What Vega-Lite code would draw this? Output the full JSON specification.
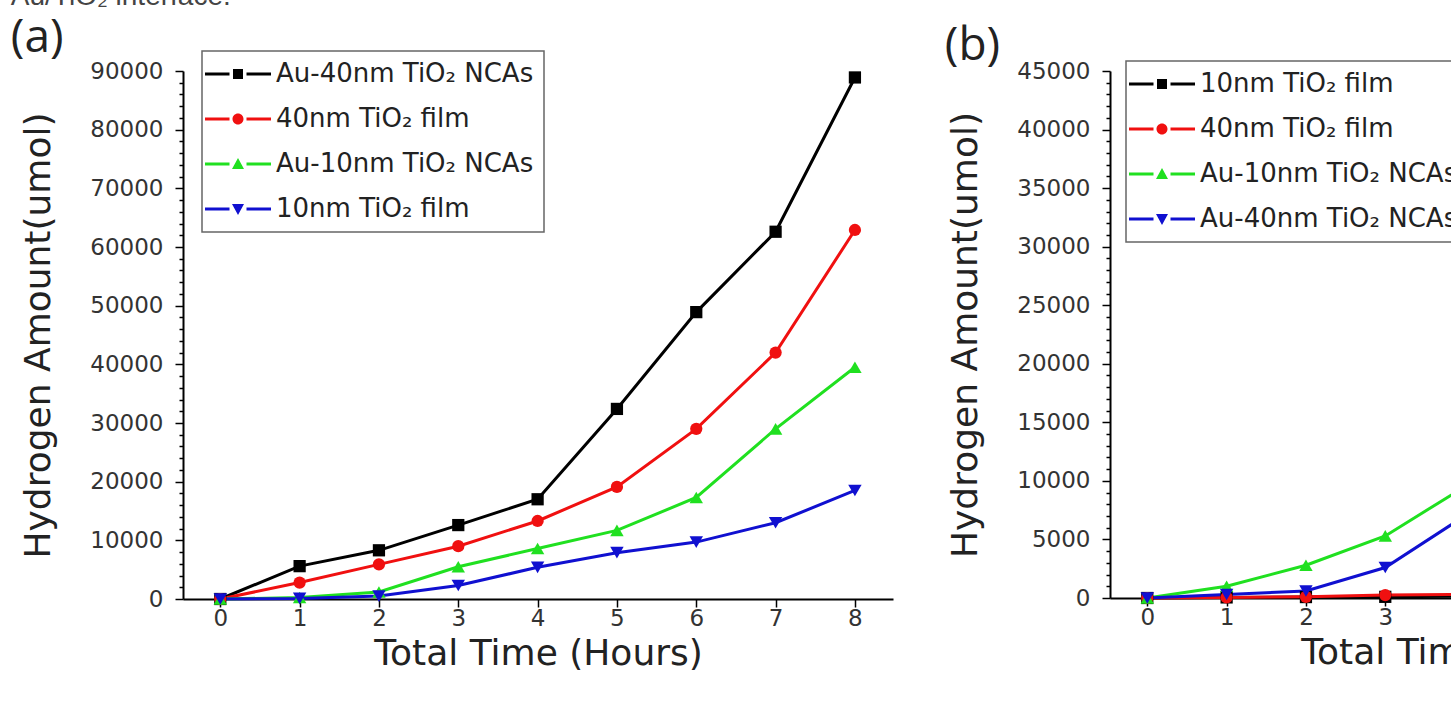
{
  "$schema": "https://vega.github.io/schema/vega-lite/v6.json",
  "background": "white",
  "padding": {"left": 10, "top": -17, "right": 0, "bottom": 0},
  "title": {"text": "Au/TiO₂ interface.", "anchor": "start", "frame": "bounds", "font": "Liberation Sans", "fontSize": 28, "fontWeight": "normal", "color": "#444", "offset": 4},
  "config": {
    "view": {"stroke": null},
    "axis": {"domainColor": "#000", "domainWidth": 2, "tickColor": "#000", "tickWidth": 1.5, "labelFont": "DejaVu Sans", "labelFontSize": 23, "labelColor": "#333", "titleFont": "DejaVu Sans", "titleFontSize": 36, "titleFontWeight": "normal", "titleColor": "#222", "grid": false, "labelOverlap": false, "labelFlush": false},
    "legend": {"orient": "none", "title": null, "strokeColor": "#666", "strokeWidth": 1.5, "padding": 10, "symbolSize": 100, "symbolOffset": 13, "labelOffset": 25, "rowPadding": 19, "labelFont": "DejaVu Sans", "labelFontSize": 26, "labelColor": "#222", "labelLimit": 0, "symbolStrokeWidth": 0}
  },
  "datasets": {
    "a": [
      {"series": "Au-40nm TiO₂ NCAs", "hours": 0, "amount": 0},
      {"series": "Au-40nm TiO₂ NCAs", "hours": 1, "amount": 5600},
      {"series": "Au-40nm TiO₂ NCAs", "hours": 2, "amount": 8300},
      {"series": "Au-40nm TiO₂ NCAs", "hours": 3, "amount": 12600},
      {"series": "Au-40nm TiO₂ NCAs", "hours": 4, "amount": 17000},
      {"series": "Au-40nm TiO₂ NCAs", "hours": 5, "amount": 32400},
      {"series": "Au-40nm TiO₂ NCAs", "hours": 6, "amount": 48900},
      {"series": "Au-40nm TiO₂ NCAs", "hours": 7, "amount": 62600},
      {"series": "Au-40nm TiO₂ NCAs", "hours": 8, "amount": 88900},
      {"series": "40nm TiO₂ film", "hours": 0, "amount": 0},
      {"series": "40nm TiO₂ film", "hours": 1, "amount": 2800},
      {"series": "40nm TiO₂ film", "hours": 2, "amount": 5900},
      {"series": "40nm TiO₂ film", "hours": 3, "amount": 9000},
      {"series": "40nm TiO₂ film", "hours": 4, "amount": 13300},
      {"series": "40nm TiO₂ film", "hours": 5, "amount": 19100},
      {"series": "40nm TiO₂ film", "hours": 6, "amount": 29000},
      {"series": "40nm TiO₂ film", "hours": 7, "amount": 42000},
      {"series": "40nm TiO₂ film", "hours": 8, "amount": 62900},
      {"series": "Au-10nm TiO₂ NCAs", "hours": 0, "amount": 0},
      {"series": "Au-10nm TiO₂ NCAs", "hours": 1, "amount": 250},
      {"series": "Au-10nm TiO₂ NCAs", "hours": 2, "amount": 1200},
      {"series": "Au-10nm TiO₂ NCAs", "hours": 3, "amount": 5500},
      {"series": "Au-10nm TiO₂ NCAs", "hours": 4, "amount": 8600},
      {"series": "Au-10nm TiO₂ NCAs", "hours": 5, "amount": 11700},
      {"series": "Au-10nm TiO₂ NCAs", "hours": 6, "amount": 17300},
      {"series": "Au-10nm TiO₂ NCAs", "hours": 7, "amount": 29000},
      {"series": "Au-10nm TiO₂ NCAs", "hours": 8, "amount": 39500},
      {"series": "10nm TiO₂ film", "hours": 0, "amount": 0},
      {"series": "10nm TiO₂ film", "hours": 1, "amount": 100},
      {"series": "10nm TiO₂ film", "hours": 2, "amount": 500},
      {"series": "10nm TiO₂ film", "hours": 3, "amount": 2300},
      {"series": "10nm TiO₂ film", "hours": 4, "amount": 5400},
      {"series": "10nm TiO₂ film", "hours": 5, "amount": 7900},
      {"series": "10nm TiO₂ film", "hours": 6, "amount": 9700},
      {"series": "10nm TiO₂ film", "hours": 7, "amount": 13000},
      {"series": "10nm TiO₂ film", "hours": 8, "amount": 18500}
    ],
    "b": [
      {"series": "10nm TiO₂ film", "hours": 0, "amount": 0},
      {"series": "10nm TiO₂ film", "hours": 1, "amount": 50},
      {"series": "10nm TiO₂ film", "hours": 2, "amount": 80},
      {"series": "10nm TiO₂ film", "hours": 3, "amount": 100},
      {"series": "10nm TiO₂ film", "hours": 4, "amount": 150},
      {"series": "40nm TiO₂ film", "hours": 0, "amount": 0},
      {"series": "40nm TiO₂ film", "hours": 1, "amount": 50},
      {"series": "40nm TiO₂ film", "hours": 2, "amount": 100},
      {"series": "40nm TiO₂ film", "hours": 3, "amount": 250},
      {"series": "40nm TiO₂ film", "hours": 4, "amount": 300},
      {"series": "Au-10nm TiO₂ NCAs", "hours": 0, "amount": 0},
      {"series": "Au-10nm TiO₂ NCAs", "hours": 1, "amount": 1000},
      {"series": "Au-10nm TiO₂ NCAs", "hours": 2, "amount": 2800},
      {"series": "Au-10nm TiO₂ NCAs", "hours": 3, "amount": 5300},
      {"series": "Au-10nm TiO₂ NCAs", "hours": 4, "amount": 9500},
      {"series": "Au-40nm TiO₂ NCAs", "hours": 0, "amount": 0},
      {"series": "Au-40nm TiO₂ NCAs", "hours": 1, "amount": 300},
      {"series": "Au-40nm TiO₂ NCAs", "hours": 2, "amount": 600},
      {"series": "Au-40nm TiO₂ NCAs", "hours": 3, "amount": 2600},
      {"series": "Au-40nm TiO₂ NCAs", "hours": 4, "amount": 7000}
    ]
  },
  "bounds": "flush",
  "spacing": 217,
  "resolve": {"scale": {"color": "independent", "shape": "independent", "x": "independent", "y": "independent"}, "legend": {"color": "independent", "shape": "independent"}},
  "hconcat": [
    {
      "width": 710,
      "height": 528,
      "title": {"text": "(a)", "anchor": "start", "frame": "bounds", "font": "Open Sans", "fontSize": 46, "fontWeight": "normal", "color": "#222", "offset": -12, "dx": -10},
      "data": {"name": "a"},
      "encoding": {
        "x": {"field": "hours", "type": "quantitative", "scale": {"domain": [-0.47, 8.48], "nice": false, "zero": false},
          "axis": {"title": "Total Time (Hours)", "values": [0,0.5,1,1.5,2,2.5,3,3.5,4,4.5,5,5.5,6,6.5,7,7.5,8], "format": "d", "labelExpr": "datum.value % 1 === 0 ? datum.label : ''", "tickSize": {"condition": {"test": "datum.value % 1 === 0", "value": 8}, "value": 5}, "labelPadding": 0, "titlePadding": 6}},
        "y": {"field": "amount", "type": "quantitative", "scale": {"domain": [0, 90000], "nice": false},
          "axis": {"title": "Hydrogen Amount(umol)", "values": [0,2000,4000,6000,8000,10000,12000,14000,16000,18000,20000,22000,24000,26000,28000,30000,32000,34000,36000,38000,40000,42000,44000,46000,48000,50000,52000,54000,56000,58000,60000,62000,64000,66000,68000,70000,72000,74000,76000,78000,80000,82000,84000,86000,88000,90000], "format": "d", "labelExpr": "datum.value % 10000 === 0 ? datum.label : ''", "tickSize": {"condition": {"test": "datum.value % 10000 === 0", "value": 8}, "value": 4}, "labelPadding": 12, "titlePadding": 32}},
        "color": {"field": "series", "type": "nominal",
          "scale": {"domain": ["Au-40nm TiO₂ NCAs", "40nm TiO₂ film", "Au-10nm TiO₂ NCAs", "10nm TiO₂ film"], "range": ["#000000", "#f01010", "#20e020", "#1010d0"]},
          "legend": {"legendX": 19, "legendY": -20}}
      },
      "layer": [
        {"mark": {"type": "line", "strokeWidth": 3}},
        {"transform": [{"filter": "datum.series === 'Au-40nm TiO₂ NCAs'"}], "mark": {"type": "point", "shape": "square", "filled": true, "opacity": 1, "size": 150}},
        {"transform": [{"filter": "datum.series === '40nm TiO₂ film'"}], "mark": {"type": "point", "shape": "circle", "filled": true, "opacity": 1, "size": 150}},
        {"transform": [{"filter": "datum.series === 'Au-10nm TiO₂ NCAs'"}], "mark": {"type": "point", "shape": "triangle-up", "filled": true, "opacity": 1, "size": 180}},
        {"transform": [{"filter": "datum.series === '10nm TiO₂ film'"}], "mark": {"type": "point", "shape": "triangle-down", "filled": true, "opacity": 1, "size": 180}},
        {
          "transform": [{"filter": "false"}],
          "mark": {"type": "point", "filled": true, "opacity": 1},
          "encoding": {
            "shape": {"field": "series", "type": "nominal",
              "scale": {"domain": ["Au-40nm TiO₂ NCAs", "40nm TiO₂ film", "Au-10nm TiO₂ NCAs", "10nm TiO₂ film"],
                "range": ["M-6.6,-0.3H-1.7V0.3H-6.6ZM1.7,-0.3H6.6V0.3H1.7ZM-1,-1H1V1H-1Z", "M-6.6,-0.3H-1.7V0.3H-6.6ZM1.7,-0.3H6.6V0.3H1.7ZM-1.1,0A1.1,1.1 0 1,0 1.1,0A1.1,1.1 0 1,0 -1.1,0Z", "M-6.6,-0.3H-1.7V0.3H-6.6ZM1.7,-0.3H6.6V0.3H1.7ZM0,-1.2L1.2,1L-1.2,1Z", "M-6.6,-0.3H-1.7V0.3H-6.6ZM1.7,-0.3H6.6V0.3H1.7ZM0,1.2L1.2,-1L-1.2,-1Z"]},
              "legend": {"legendX": 19, "legendY": -20}}
          }
        }
      ]
    },
    {
      "width": 710,
      "height": 527,
      "title": {"text": "(b)", "anchor": "start", "frame": "bounds", "font": "Open Sans", "fontSize": 46, "fontWeight": "normal", "color": "#222", "offset": -10, "dx": -3},
      "data": {"name": "b"},
      "encoding": {
        "x": {"field": "hours", "type": "quantitative", "scale": {"domain": [-0.47, 8.48], "nice": false, "zero": false},
          "axis": {"title": "Total Time (Hours)", "values": [0,0.5,1,1.5,2,2.5,3,3.5,4,4.5,5,5.5,6,6.5,7,7.5,8], "format": "d", "labelExpr": "datum.value % 1 === 0 ? datum.label : ''", "tickSize": {"condition": {"test": "datum.value % 1 === 0", "value": 8}, "value": 5}, "labelPadding": 0, "titlePadding": 6}},
        "y": {"field": "amount", "type": "quantitative", "scale": {"domain": [0, 45000], "nice": false},
          "axis": {"title": "Hydrogen Amount(umol)", "values": [0,1000,2000,3000,4000,5000,6000,7000,8000,9000,10000,11000,12000,13000,14000,15000,16000,17000,18000,19000,20000,21000,22000,23000,24000,25000,26000,27000,28000,29000,30000,31000,32000,33000,34000,35000,36000,37000,38000,39000,40000,41000,42000,43000,44000,45000], "format": "d", "labelExpr": "datum.value % 5000 === 0 ? datum.label : ''", "tickSize": {"condition": {"test": "datum.value % 5000 === 0", "value": 8}, "value": 4}, "labelPadding": 12, "titlePadding": 32}},
        "color": {"field": "series", "type": "nominal",
          "scale": {"domain": ["10nm TiO₂ film", "40nm TiO₂ film", "Au-10nm TiO₂ NCAs", "Au-40nm TiO₂ NCAs"], "range": ["#000000", "#f01010", "#20e020", "#1010d0"]},
          "legend": {"legendX": 16, "legendY": -10}}
      },
      "layer": [
        {"mark": {"type": "line", "strokeWidth": 3}},
        {"transform": [{"filter": "datum.series === '10nm TiO₂ film'"}], "mark": {"type": "point", "shape": "square", "filled": true, "opacity": 1, "size": 150}},
        {"transform": [{"filter": "datum.series === '40nm TiO₂ film'"}], "mark": {"type": "point", "shape": "circle", "filled": true, "opacity": 1, "size": 150}},
        {"transform": [{"filter": "datum.series === 'Au-10nm TiO₂ NCAs'"}], "mark": {"type": "point", "shape": "triangle-up", "filled": true, "opacity": 1, "size": 180}},
        {"transform": [{"filter": "datum.series === 'Au-40nm TiO₂ NCAs'"}], "mark": {"type": "point", "shape": "triangle-down", "filled": true, "opacity": 1, "size": 180}},
        {
          "transform": [{"filter": "false"}],
          "mark": {"type": "point", "filled": true, "opacity": 1},
          "encoding": {
            "shape": {"field": "series", "type": "nominal",
              "scale": {"domain": ["10nm TiO₂ film", "40nm TiO₂ film", "Au-10nm TiO₂ NCAs", "Au-40nm TiO₂ NCAs"],
                "range": ["M-6.6,-0.3H-1.7V0.3H-6.6ZM1.7,-0.3H6.6V0.3H1.7ZM-1,-1H1V1H-1Z", "M-6.6,-0.3H-1.7V0.3H-6.6ZM1.7,-0.3H6.6V0.3H1.7ZM-1.1,0A1.1,1.1 0 1,0 1.1,0A1.1,1.1 0 1,0 -1.1,0Z", "M-6.6,-0.3H-1.7V0.3H-6.6ZM1.7,-0.3H6.6V0.3H1.7ZM0,-1.2L1.2,1L-1.2,1Z", "M-6.6,-0.3H-1.7V0.3H-6.6ZM1.7,-0.3H6.6V0.3H1.7ZM0,1.2L1.2,-1L-1.2,-1Z"]},
              "legend": {"legendX": 16, "legendY": -10}}
          }
        }
      ]
    }
  ]
}
